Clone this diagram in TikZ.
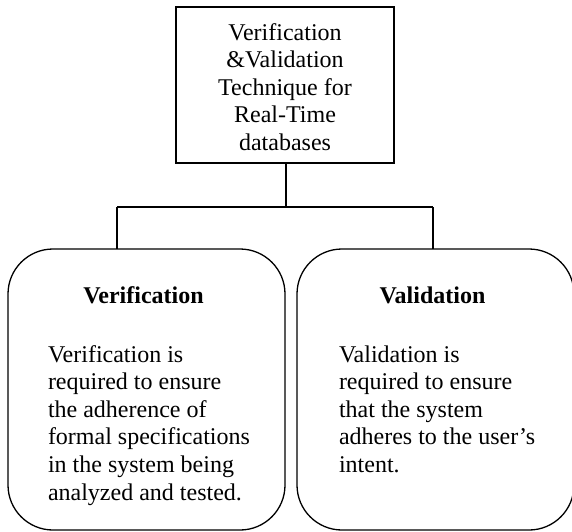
\documentclass[tikz,border=0pt]{standalone}
\usepackage{fontspec}
\setmainfont{Liberation Serif}
\begin{document}
\begin{tikzpicture}[x=1pt,y=-1pt,
  every node/.style={inner sep=0pt, outer sep=0pt},
  txt/.style={font=\fontsize{24}{27.6}\selectfont},
  hdr/.style={font=\fontsize{24}{27.6}\selectfont\bfseries, anchor=base},
  body/.style={txt, align=left, anchor=north west},
  rootbox/.style={draw, line width=1.4pt, minimum width=218pt, minimum height=156pt},
  leafbox/.style={draw, line width=1.3pt, rounded corners=45pt, minimum height=281pt},
  link/.style={line width=1.3pt}
]
\useasboundingbox (0,0) rectangle (572,531);

% root box and its caption
\node[rootbox] (root) at (285,85) {};
\node[txt, align=center, anchor=north] (roottxt) at (285,20.7)
  {\strut Verification\\\&Validation\\Technique for\\Real-Time\\databases};

% the two branches
\node[leafbox, minimum width=277pt] (ver) at (146.5,389.5) {};
\node[leafbox, minimum width=277pt] (val) at (435.5,389.5) {};

\node[hdr] (verhead) at (143.5,303) {Verification};
\node[hdr] (valhead) at (432.5,303) {Validation};

\node[body] (vertxt) at (48,342.7)
  {\strut Verification is\\required to ensure\\the adherence of\\formal specifications\\in the system being\\analyzed and tested.};
\node[body] (valtxt) at (339,342.7)
  {\strut Validation is\\required to ensure\\that the system\\adheres to the user’s\\intent.};

% tree connectors
\coordinate (bus) at (286,207);
\coordinate (lj) at (117,207);
\coordinate (rj) at (433,207);
\draw[link] (root.south -| bus) -- (bus);
\draw[link] (lj) -- (rj);
\draw[link] (lj) -- (lj |- ver.north);
\draw[link] (rj) -- (rj |- val.north);
\end{tikzpicture}
\end{document}
